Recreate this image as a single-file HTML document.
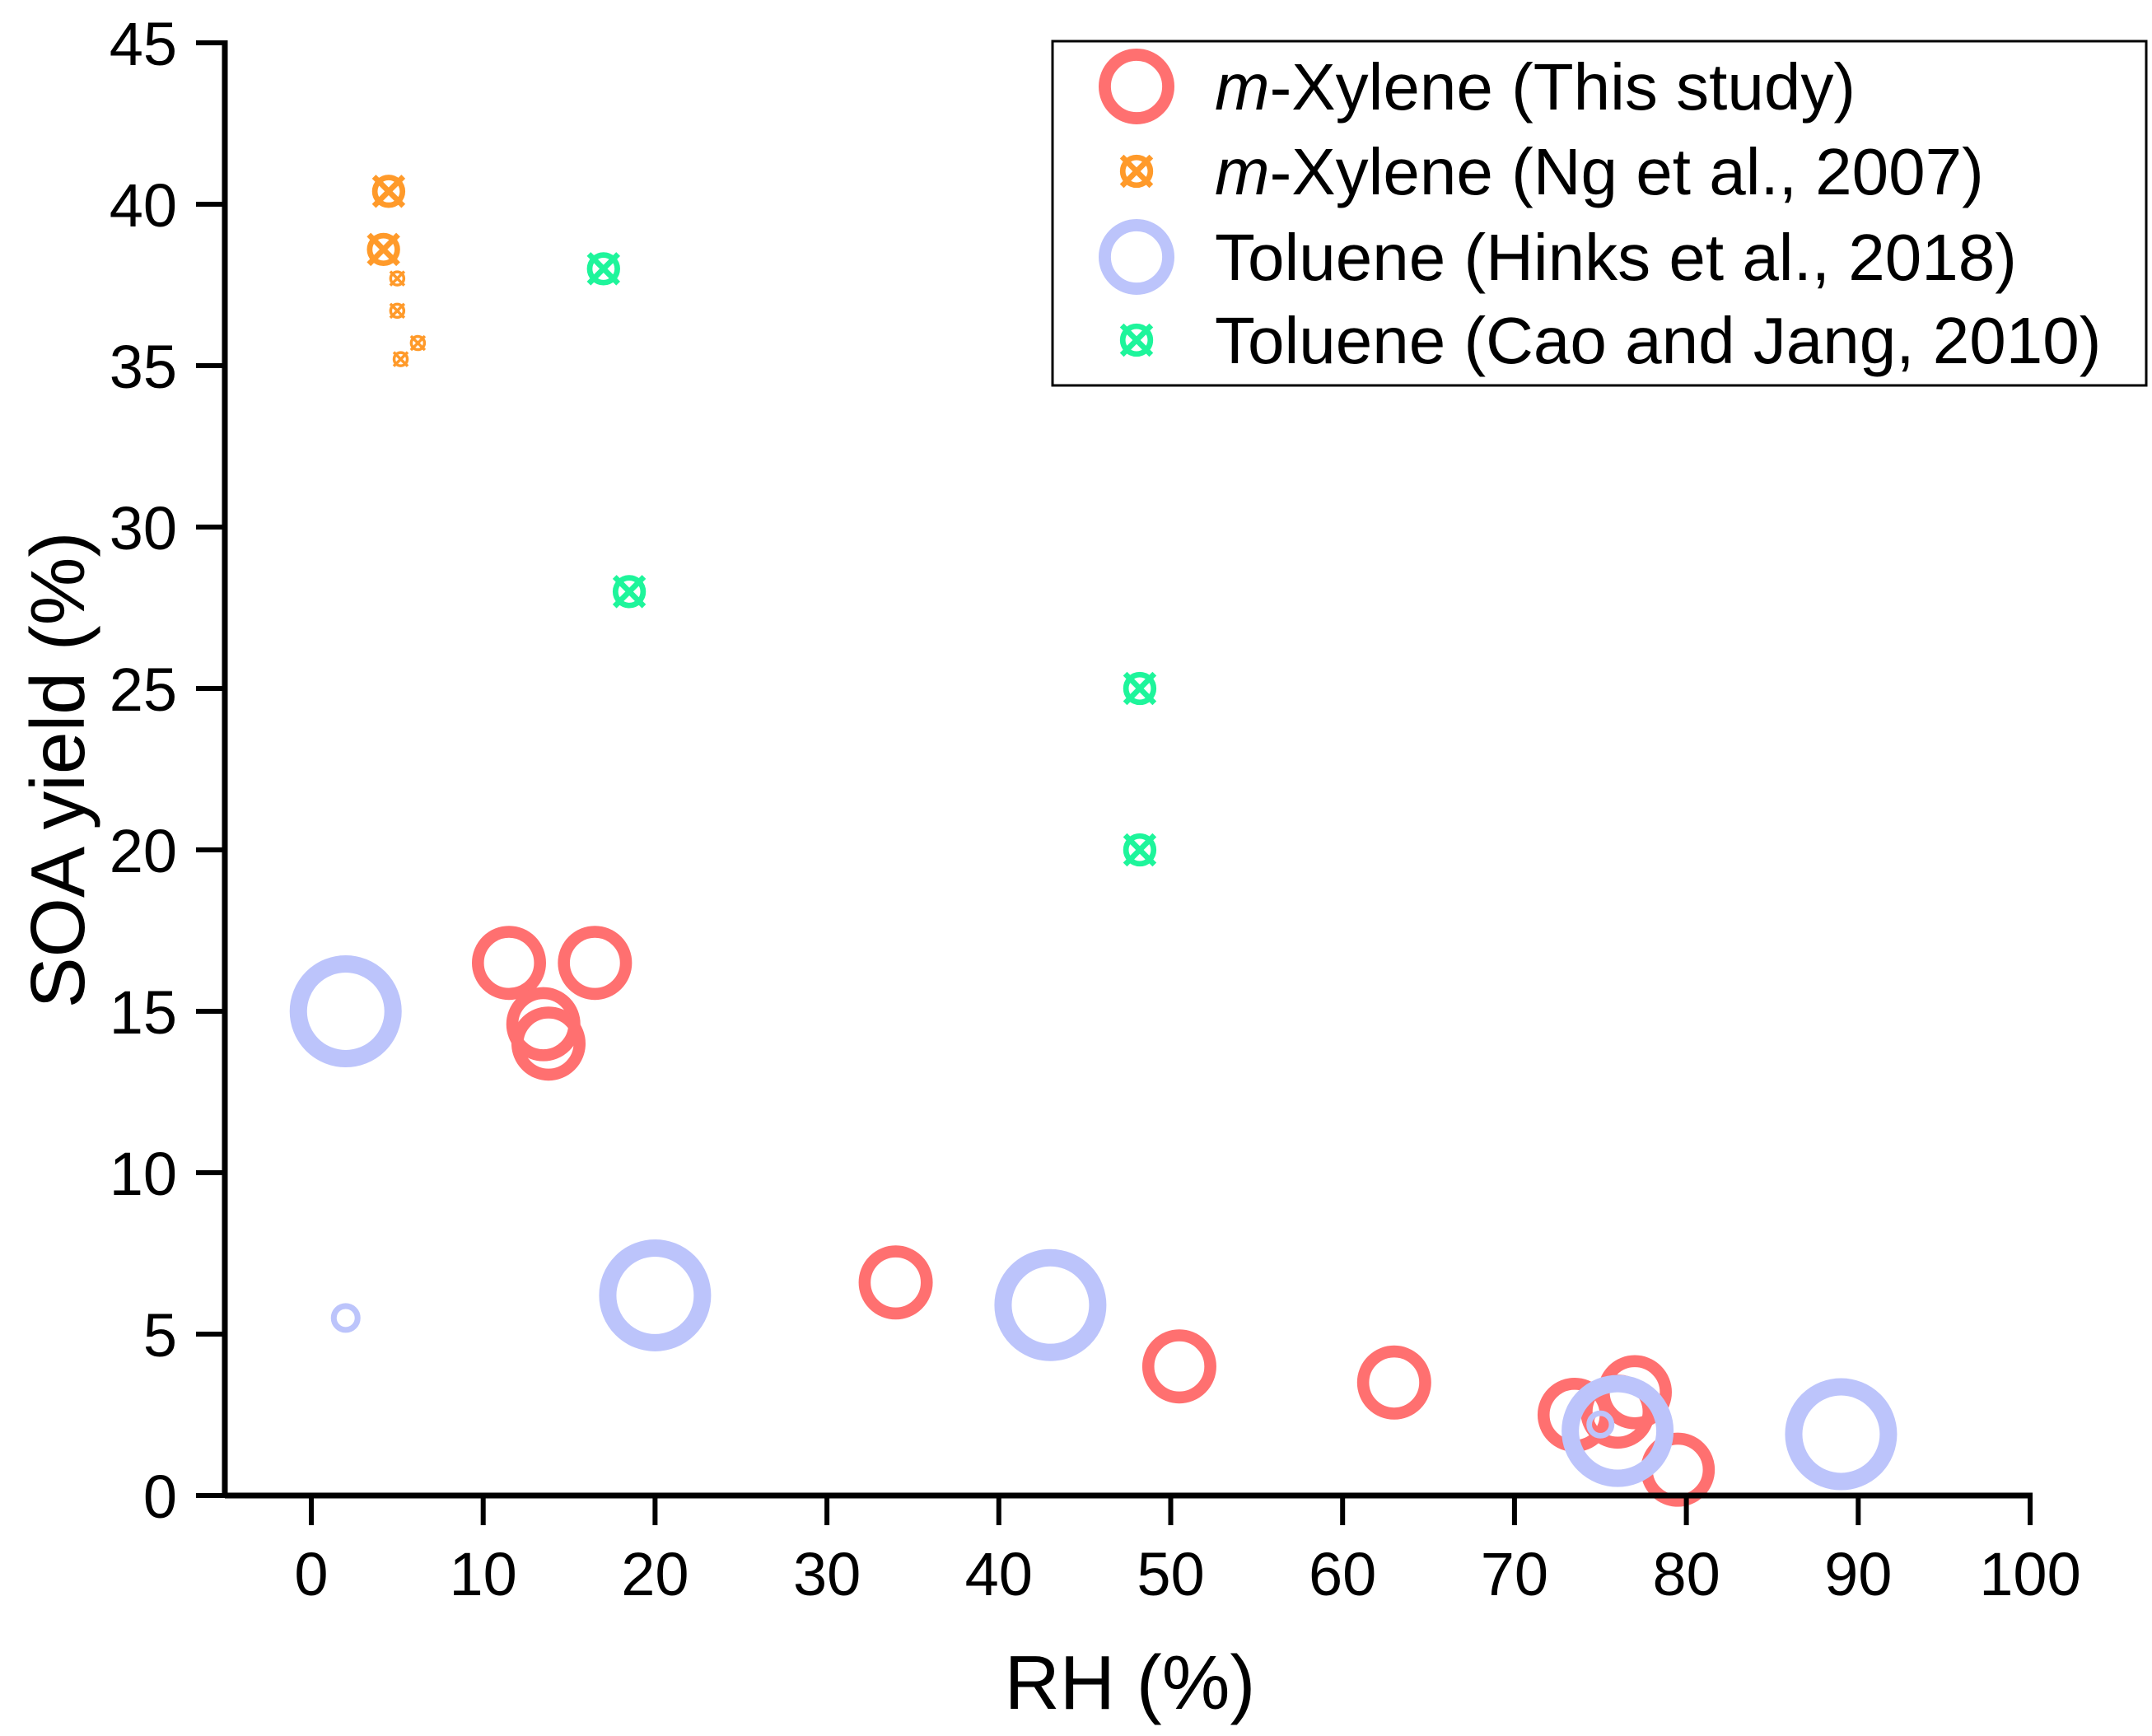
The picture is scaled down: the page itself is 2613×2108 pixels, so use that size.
<!DOCTYPE html>
<html><head><meta charset="utf-8"><style>
html,body{margin:0;padding:0;background:#fff;}
svg text{font-family:"Liberation Sans",Arial,sans-serif;fill:#000;}
</style></head><body>
<svg id="chart" width="2613" height="2103" viewBox="0 0 2613 2103" xmlns="http://www.w3.org/2000/svg">
<g id="marks"></g>
<g id="axes"></g>
<g id="legend"></g>
</svg>
<script>
// Data
const redX = [11.5, 16.5, 13.5, 13.8, 34, 50.5, 63, 73.5, 77, 76, 79.5, 75];
const redY = [16.5, 16.5, 14.6, 14.0, 6.6, 4.0, 3.5, 2.5, 3.2, 2.6, 0.8, 2.3];
const redR = [45, 45, 45, 45, 45, 45, 45, 45, 45, 45, 45, 13];
const blueX = [2, 2, 20, 43, 76, 89, 75];
const blueY = [15, 5.5, 6.2, 5.9, 2.0, 1.9, 2.2];
const blueR = [68, 18, 68, 68, 68, 68, 17];
const orangeX = [4.5, 4.2, 5.0, 5.0, 6.2, 5.2];
const orangeY = [40.4, 38.6, 37.7, 36.7, 35.7, 35.2];
const orangeR = [21, 21, 10, 10, 10, 10];
const greenX = [17, 18.5, 48.2, 48.2];
const greenY = [38, 28, 25, 20];
const greenR = [21, 21, 21, 21];
const xTicks = [0,10,20,30,40,50,60,70,80,90,100];
const yTicks = [0,5,10,15,20,25,30,35,40,45];

const X0=378, X100=2465, Y0=1816, Y45=52;
function sx(v){return X0+(X100-X0)*v/100;}
function sy(v){return Y0-(Y0-Y45)*v/45;}
const NS="http://www.w3.org/2000/svg";
function mk(tag,attrs,parent){const e=document.createElementNS(NS,tag);for(const k in attrs)e.setAttribute(k,attrs[k]);parent.appendChild(e);return e;}
const marks=document.getElementById('marks');
const axes=document.getElementById('axes');
const legend=document.getElementById('legend');

function ring(cx,cy,r,color,parent){
  const w=r*0.28+2;
  return mk('circle',{cx:cx,cy:cy,r:r-w/2,fill:'none',stroke:color,'stroke-width':w},parent);
}
function xmark(cx,cy,r,color,parent){
  const g=mk('g',{},parent);
  const sw=Math.max(3.5,r*0.32);
  mk('circle',{cx:cx,cy:cy,r:r*0.8,fill:'none',stroke:color,'stroke-width':sw},g);
  const d=r*0.85;
  mk('line',{x1:cx-d,y1:cy-d,x2:cx+d,y2:cy+d,stroke:color,'stroke-width':sw},g);
  mk('line',{x1:cx-d,y1:cy+d,x2:cx+d,y2:cy-d,stroke:color,'stroke-width':sw},g);
  return g;
}
const RED='#ff7070', BLUE='#bcc4fb', ORANGE='#ff9a2a', GREEN='#1ef59b';
redX.forEach((v,i)=>{const e=ring(sx(v),sy(redY[i]),redR[i],RED,marks);

});
blueX.forEach((v,i)=>{const e=ring(sx(v),sy(blueY[i]),blueR[i],BLUE,marks);

});
orangeX.forEach((v,i)=>{const e=xmark(sx(v),sy(orangeY[i]),orangeR[i],ORANGE,marks);

});
greenX.forEach((v,i)=>{const e=xmark(sx(v),sy(greenY[i]),greenR[i],GREEN,marks);

});

// axes
let a=mk('line',{x1:273,y1:Y0,x2:X100+3,y2:Y0,stroke:'#000','stroke-width':7},axes);

a=mk('line',{x1:273,y1:Y45-3,x2:273,y2:Y0+3,stroke:'#000','stroke-width':7},axes);

xTicks.forEach(v=>{
  const t=mk('line',{x1:sx(v),y1:Y0,x2:sx(v),y2:Y0+36,stroke:'#000','stroke-width':6},axes);
  
  const l=mk('text',{x:sx(v),y:1937,'font-size':74,'text-anchor':'middle'},axes);
  l.textContent=v;
  
});
yTicks.forEach(v=>{
  const t=mk('line',{x1:238,y1:sy(v),x2:273,y2:sy(v),stroke:'#000','stroke-width':6},axes);
  
  const l=mk('text',{x:215,y:sy(v)+27,'font-size':74,'text-anchor':'end'},axes);
  l.textContent=v;
  
});
let xt=mk('text',{x:1372,y:2075,'font-size':93,'text-anchor':'middle'},axes);
xt.textContent='RH (%)';

let yt=mk('text',{x:0,y:0,'font-size':93,'text-anchor':'middle',transform:'translate(102,935) rotate(-90)'},axes);
yt.textContent='SOA yield (%)';


// legend
let box=mk('rect',{x:1278,y:50,width:1328,height:418,fill:'#fff',stroke:'#000','stroke-width':3},legend);

const entries=[
  {y:105,kind:'ring',r:46,c:RED,it:'m',txt:'-Xylene (This study)'},
  {y:208,kind:'x',r:21,c:ORANGE,it:'m',txt:'-Xylene (Ng et al., 2007)'},
  {y:312,kind:'ring',r:46,c:BLUE,it:'',txt:'Toluene (Hinks et al., 2018)'},
  {y:413,kind:'x',r:21,c:GREEN,it:'',txt:'Toluene (Cao and Jang, 2010)'}
];
entries.forEach(en=>{
  const g=mk('g',{},legend);
  
  
  if(en.kind==='ring') ring(1380,en.y,en.r,en.c,g); else xmark(1380,en.y,en.r,en.c,g);
  const t=mk('text',{x:1475,y:en.y+28,'font-size':80},g);
  if(en.it){const s=mk('tspan',{'font-style':'italic'},t);s.textContent=en.it;}
  const s2=mk('tspan',{},t);s2.textContent=en.txt;
});
</script>
</body></html>
